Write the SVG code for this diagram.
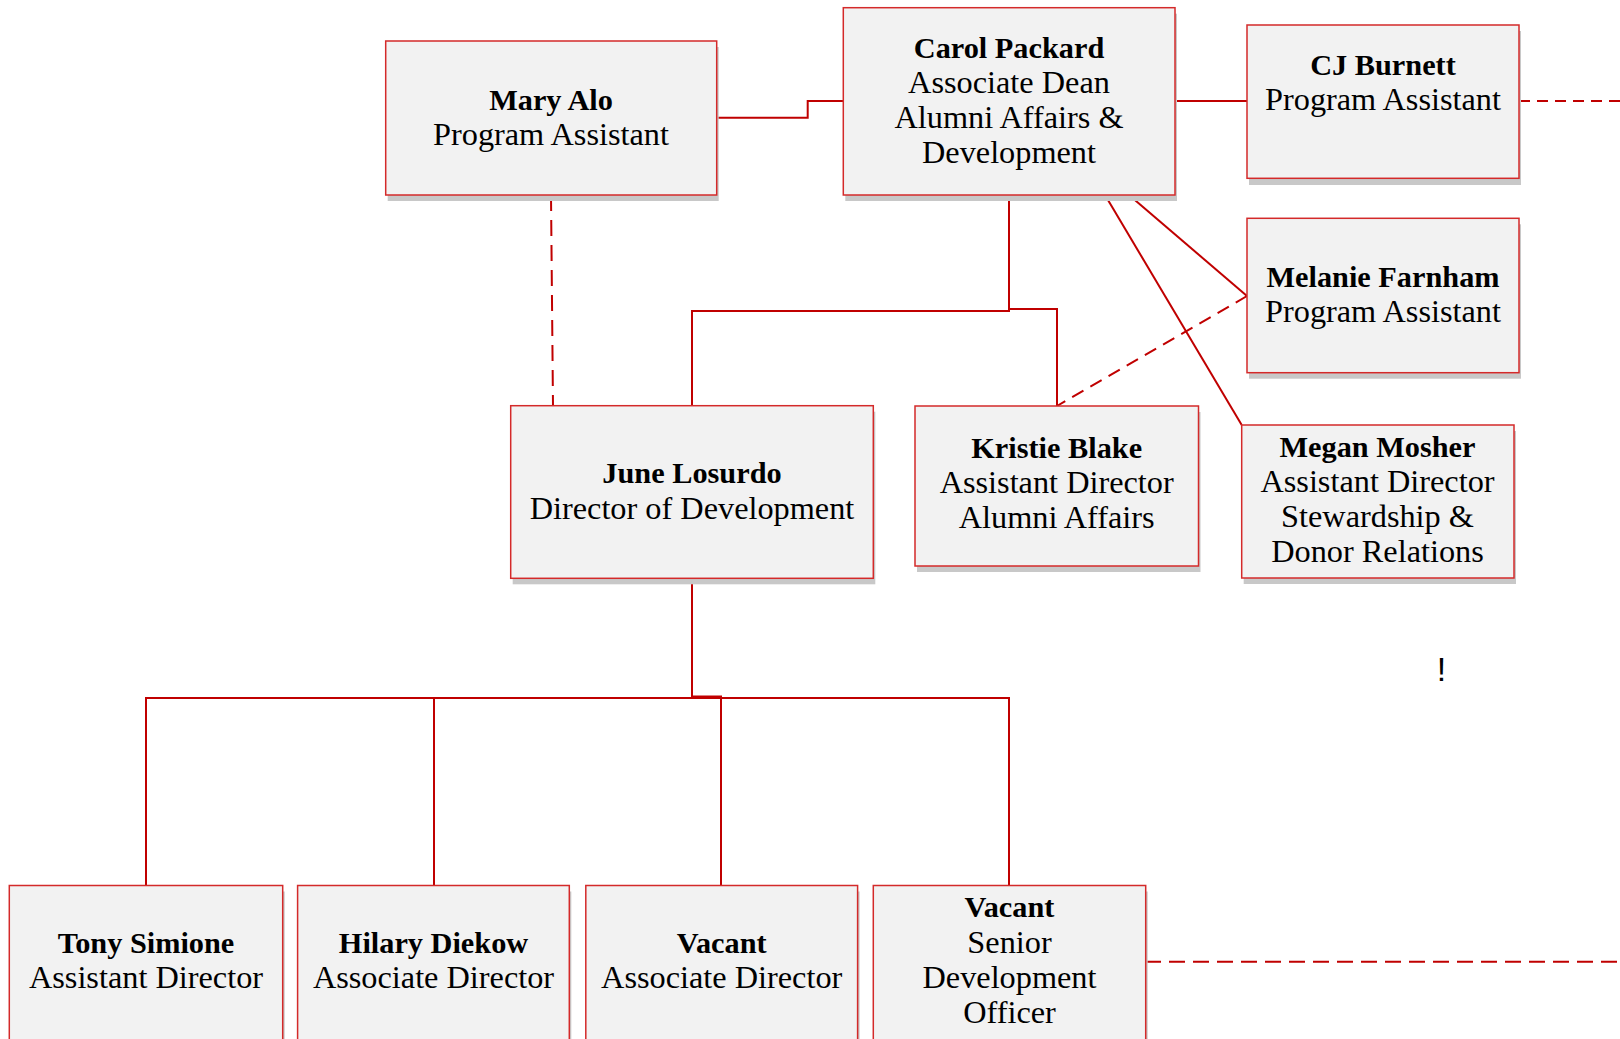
<svg xmlns="http://www.w3.org/2000/svg" width="1620" height="1039" viewBox="0 0 1620 1039">
<style>
.box{fill:#F2F2F2;stroke:#D42A2A;stroke-width:1.5}
.sh{fill:#C8C8C8}
.ln{fill:none;stroke:#C00000;stroke-width:2}
.ds{fill:none;stroke:#C00000;stroke-width:2;stroke-dasharray:16 9}
text{font-family:"Liberation Serif","Times New Roman",serif;font-size:32.3px;fill:#000;text-anchor:middle}
.b{font-weight:bold;font-size:30.3px}
</style>
<rect width="1620" height="1039" fill="#fff"/>
<g id="connectors">
<polyline class="ln" points="716.7,117.7 807.7,117.7 807.7,101 843.3,101"/>
<line class="ln" x1="1175" y1="101" x2="1247" y2="101"/>
<line class="ds" x1="1519" y1="101" x2="1620" y2="101" style="stroke-dasharray:11 7"/>
<line class="ds" x1="551" y1="195" x2="553" y2="406"/>
<polyline class="ln" points="1009,195 1009,311 692,311 692,406"/>
<polyline class="ln" points="1009,309 1057,309 1057,406"/>
<line class="ln" x1="1129" y1="195" x2="1247" y2="296"/>
<line class="ln" x1="1105" y1="195" x2="1241.7" y2="425"/>
<line class="ds" x1="1247" y1="296" x2="1057" y2="406" style="stroke-dasharray:13 8"/>
<polyline class="ln" points="692,578 692,698 146,698 146,885.5"/>
<polyline class="ln" points="692,698 434,698 434,885.5"/>
<polyline class="ln" points="692,696.5 721,696.5 721,885.5"/>
<polyline class="ln" points="692,698 1009,698 1009,885.5"/>
<line class="ds" x1="1145" y1="961.7" x2="1620" y2="961.7" style="stroke-dasharray:16 8"/>
</g>
<g id="mary-alo">
<rect class="sh" x="387.7" y="47" width="331" height="154"/>
<rect class="box" x="385.7" y="41" width="331" height="154"/>
<text class="b" x="551" y="110">Mary Alo</text>
<text x="551" y="145">Program Assistant</text>
</g>
<g id="carol-packard">
<rect class="sh" x="845.3" y="13.7" width="331.7" height="187.3"/>
<rect class="box" x="843.3" y="7.7" width="331.7" height="187.3"/>
<text class="b" x="1009" y="58.3">Carol Packard</text>
<text x="1009" y="93.3">Associate Dean</text>
<text x="1009" y="128.3">Alumni Affairs &amp;</text>
<text x="1009" y="163.3">Development</text>
</g>
<g id="cj-burnett">
<rect class="sh" x="1249" y="31" width="272" height="154"/>
<rect class="box" x="1247" y="25" width="272" height="153.3"/>
<text class="b" x="1383" y="75">CJ Burnett</text>
<text x="1383" y="110">Program Assistant</text>
</g>
<g id="melanie-farnham">
<rect class="sh" x="1249" y="224.3" width="272" height="154.4"/>
<rect class="box" x="1247" y="218.3" width="272" height="154.4"/>
<text class="b" x="1383" y="286.7">Melanie Farnham</text>
<text x="1383" y="321.7">Program Assistant</text>
</g>
<g id="june-losurdo">
<rect class="sh" x="512.7" y="411.7" width="362.6" height="172.6"/>
<rect class="box" x="510.7" y="405.7" width="362.6" height="172.6"/>
<text class="b" x="692" y="483.3">June Losurdo</text>
<text x="692" y="519.3">Director of Development</text>
</g>
<g id="kristie-blake">
<rect class="sh" x="917" y="412" width="283.5" height="160"/>
<rect class="box" x="915" y="406" width="283.5" height="160"/>
<text class="b" x="1056.7" y="458.3">Kristie Blake</text>
<text x="1056.7" y="493.3">Assistant Director</text>
<text x="1056.7" y="528.3">Alumni Affairs</text>
</g>
<g id="megan-mosher">
<rect class="sh" x="1243.7" y="431" width="272.3" height="153"/>
<rect class="box" x="1241.7" y="425" width="272.3" height="153"/>
<text class="b" x="1377.5" y="456.7">Megan Mosher</text>
<text x="1377.5" y="491.7">Assistant Director</text>
<text x="1377.5" y="526.7">Stewardship &amp;</text>
<text x="1377.5" y="561.7">Donor Relations</text>
</g>
<g id="tony-simione">
<rect class="sh" x="11.3" y="891.5" width="273.4" height="170"/>
<rect class="box" x="9.3" y="885.5" width="273.4" height="170"/>
<text class="b" x="146" y="952.7">Tony Simione</text>
<text x="146" y="987.7">Assistant Director</text>
</g>
<g id="hilary-diekow">
<rect class="sh" x="299.6" y="891.5" width="271.7" height="170"/>
<rect class="box" x="297.6" y="885.5" width="271.7" height="170"/>
<text class="b" x="433.5" y="952.7">Hilary Diekow</text>
<text x="433.5" y="987.7">Associate Director</text>
</g>
<g id="vacant-associate">
<rect class="sh" x="587.8" y="891.5" width="271.8" height="170"/>
<rect class="box" x="585.8" y="885.5" width="271.8" height="170"/>
<text class="b" x="721.7" y="952.7">Vacant</text>
<text x="721.7" y="987.7">Associate Director</text>
</g>
<g id="vacant-senior">
<rect class="sh" x="875.3" y="891.5" width="272.4" height="170"/>
<rect class="box" x="873.3" y="885.5" width="272.4" height="170"/>
<text class="b" x="1009.5" y="917.3">Vacant</text>
<text x="1009.5" y="952.7">Senior</text>
<text x="1009.5" y="988.3">Development</text>
<text x="1009.5" y="1023.3">Officer</text>
</g>
<text x="1441.5" y="681" style="font-family:'Liberation Sans',Arial,sans-serif;font-size:34px">!</text>
</svg>
